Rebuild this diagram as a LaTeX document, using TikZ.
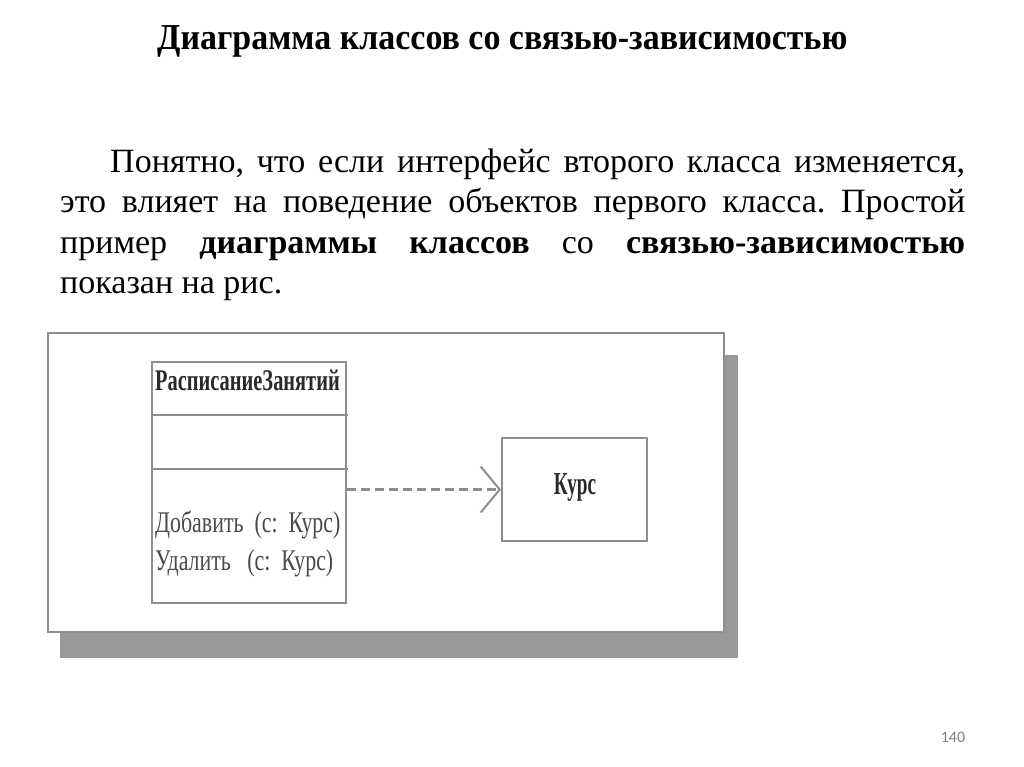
\documentclass[tikz,border=0pt]{standalone}
\usepackage{fontspec}
\usepackage{graphicx}
\setmainfont{Liberation Serif}
\newfontfamily\pgfnt{Carlito}
\usetikzlibrary{arrows.meta}
\definecolor{linegray}{HTML}{8E8E8E}
\definecolor{shadowgray}{HTML}{999999}
\definecolor{umltext}{HTML}{2A2A2A}
\tikzset{
  umlbox/.style={draw=linegray, line width=2pt, fill=white, inner sep=0pt},
  umltxt/.style={text=umltext, inner sep=0pt},
  sepline/.style={draw=linegray, line width=2pt},
  dep/.style={draw=linegray, line width=2.5pt, dash pattern=on 9pt off 5pt,
    -{Straight Barb[length=19pt,width=46pt,line width=2pt]}},
  para/.style={inner sep=0pt, anchor=base west, font=\fontsize{34}{40}\selectfont},
}
\frenchspacing
\begin{document}
\begin{tikzpicture}[x=1pt,y=-1pt]
\useasboundingbox (0,0) rectangle (1024,767);
\fill[white] (0,0) rectangle (1024,767);
% title
\node[inner sep=0pt, anchor=base west] (title) at (157,50)
  {\scalebox{0.93}[1]{\fontsize{36.5}{40}\selectfont\bfseries Диаграмма классов со связью-зависимостью}};
% paragraph
\node[para] (l1) at (110,173) {\makebox[855pt][s]{Понятно, что если интерфейс второго класса изменяется,}};
\node[para] (l2) at (60,213) {\makebox[905pt][s]{это влияет на поведение объектов первого класса. Простой}};
\node[para] (l3) at (60,253) {\makebox[905pt][s]{пример \textbf{диаграммы классов} со \textbf{связью-зависимостью}}};
\node[para] (l4) at (60,293) {показан на рис.};
% frame with shadow
\fill[shadowgray] (60,355) rectangle (738,658);
\draw[draw=linegray, line width=2pt, fill=white] (48,333) rectangle (724,632);
% class box
\node[umlbox, minimum width=194pt, minimum height=241pt] (cls) at (249,482.5) {};
\draw[sepline] (151,415) -- (348,415);
\draw[sepline] (151,469) -- (348,469);
\node[umltxt, anchor=base west, font=\bfseries\fontsize{30}{32}\selectfont] (cname) at (155,390) {\scalebox{0.68}[1]{РасписаниеЗанятий}};
\node[umltxt, anchor=base west, font=\fontsize{30}{32}\selectfont, text=umltext!85] (m1) at (155,532) {\scalebox{0.73}[1]{Добавить\ \ (с:\ \ Курс)}};
\node[umltxt, anchor=base west, font=\fontsize{30}{32}\selectfont, text=umltext!85] (m2) at (155,570) {\scalebox{0.73}[1]{Удалить\ \ \ (с:\ \ Курс)}};
% Kurs box
\node[umlbox, minimum width=145pt, minimum height=103pt] (kurs) at (574.5,489.5) {};
\node[umltxt, anchor=base, font=\bfseries\fontsize{32}{34}\selectfont] (kname) at (575,494) {\scalebox{0.6}[1]{Курс}};
% dependency
\draw[dep] (cls.east |- kurs.west) -- (kurs.west);
% page number
\node[inner sep=0pt, anchor=base, text=gray, font=\pgfnt\fontsize{16}{18}\selectfont] (pg) at (953,742) {140};
\end{tikzpicture}
\end{document}
